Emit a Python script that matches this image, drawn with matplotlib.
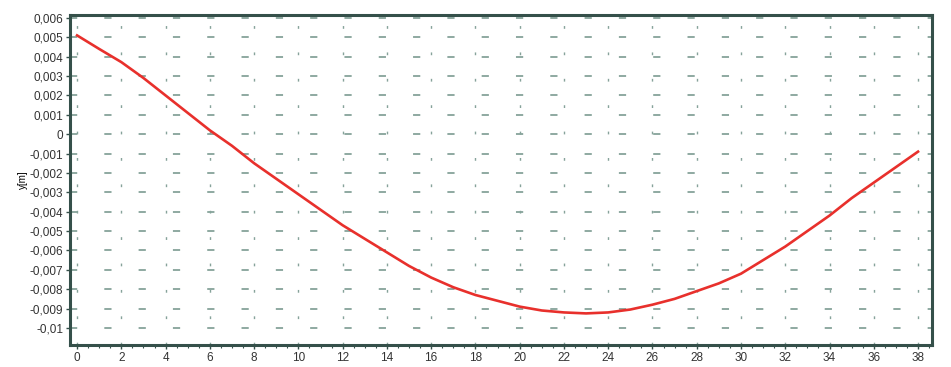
import numpy as np
import matplotlib.pyplot as plt

# Curve (one reading per x unit)
x_vals = list(range(0, 39))
y_vals = [0.0051, 0.0044, 0.00372, 0.0029, 0.0020, 0.0011, 0.0002, -0.0006, -0.0015,
          -0.0023, -0.0031, -0.0039, -0.0047, -0.0054, -0.0061, -0.0068, -0.0074,
          -0.0079, -0.0083, -0.0086, -0.0089, -0.0091, -0.0092, -0.00925, -0.0092,
          -0.00905, -0.0088, -0.0085, -0.0081, -0.0077, -0.0072, -0.0065, -0.0058,
          -0.0050, -0.0042, -0.0033, -0.0025, -0.0017, -0.0009]

x_ticks = list(range(0, 39, 2))
y_ticks = [0.006, 0.005, 0.004, 0.003, 0.002, 0.001, 0, -0.001, -0.002, -0.003, -0.004,
           -0.005, -0.006, -0.007, -0.008, -0.009, -0.01]
y_labels = ['0,006', '0,005', '0,004', '0,003', '0,002', '0,001', '0', '-0,001', '-0,002',
            '-0,003', '-0,004', '-0,005', '-0,006', '-0,007', '-0,008', '-0,009', '-0,01']

plt.rcParams['font.family'] = ['Liberation Sans', 'DejaVu Sans']

fig = plt.figure(figsize=(9.51, 3.67), dpi=100)
ax = fig.add_axes([0.0736, 0.06, 0.9064, 0.899])

# dashed grid, drawn by hand so the dash pattern matches
grid_col = '#86a39a'
for yt in y_ticks:
    ax.axhline(yt, color=grid_col, lw=1.3, dashes=(4, 15), zorder=1)
for xt in x_ticks:
    ax.axvline(xt, color=grid_col, lw=1.0, dashes=(2, 17), zorder=1)

ax.plot(x_vals, y_vals, color='#e8302c', lw=1.9, zorder=3, solid_joinstyle='round')

ax.set_xlim(-0.32, 38.63)
ax.set_ylim(-0.01088, 0.00615)
ax.set_xticks(x_ticks)
ax.set_xticklabels([str(t) for t in x_ticks], fontsize=8.5, color='#333333')
ax.set_yticks(y_ticks)
ax.set_yticklabels(y_labels, fontsize=8.5, color='#333333')
ax.set_xticks(np.arange(0, 38.6, 0.5), minor=True)
ax.tick_params(axis='both', length=3, width=1, color='#35504a', pad=2)
ax.tick_params(axis='x', which='minor', length=2, width=0.8, color='#35504a')

for s in ax.spines.values():
    s.set_color('#35504a')
    s.set_linewidth(2.2)

ax.set_ylabel('y[m]', fontsize=7, labelpad=1)

fig.savefig('out.png', dpi=100)
